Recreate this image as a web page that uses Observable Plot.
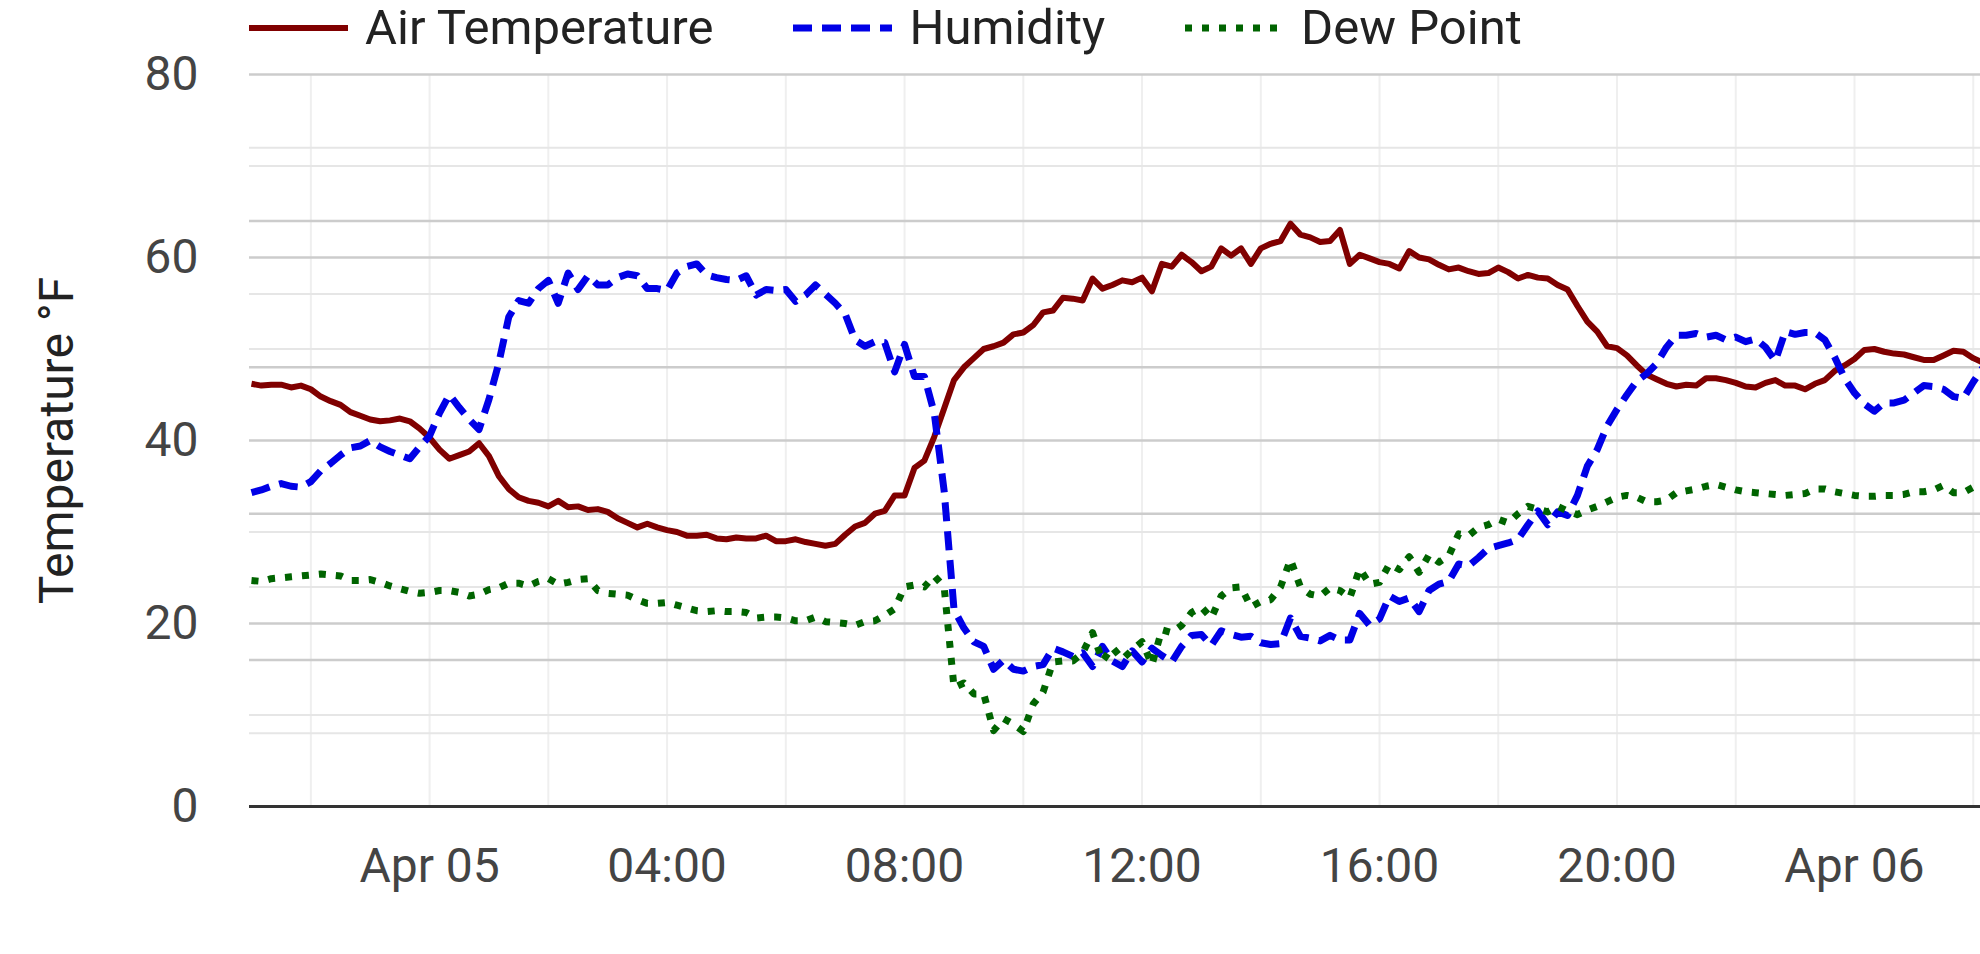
<!DOCTYPE html>
<html>
<head>
<meta charset="utf-8">
<script src="https://cdn.jsdelivr.net/npm/d3@7"></script>
<script src="https://cdn.jsdelivr.net/npm/@observablehq/plot@0.6"></script>
<style>
  html, body { margin: 0; padding: 0; background: #fff; }
  body { width: 1980px; height: 954px; overflow: hidden; font-family: Roboto, sans-serif; }
  #legend { position: relative; z-index: 2; height: 50px; width: 1980px; box-sizing: border-box; padding-left: 249px; display: flex; align-items: center; }
  #legend .item { display: flex; align-items: center; margin-right: 80px; height: 56px; margin-top: 6px; }
  #legend svg { display: block; margin-right: 17px; }
  #legend span { font-size: 49px; color: #222; line-height: 56px; white-space: nowrap; }
  #chart svg { display: block; }
</style>
</head>
<body>
<div id="legend"></div>
<div id="chart"></div>
<script>
// ---- data (10-minute readings, starting Apr 04 21:00) ----
const startTime = "2023-04-04T21:00:00Z";
const stepMinutes = 10;

const seriesNames = ["Air Temperature", "Humidity", "Dew Point"];
const seriesColors = ["#800000", "#0000e6", "#006400"];

// Air temperature (°F)
const airTemperature = [
  46.2, 46.0, 46.1, 46.1, 45.8, 46.0,
  45.6, 44.8, 44.3, 43.9, 43.1, 42.7,
  42.3, 42.1, 42.2, 42.4, 42.1, 41.3,
  40.3, 39.0, 38.0, 38.4, 38.8, 39.7,
  38.3, 36.1, 34.7, 33.8, 33.4, 33.2,
  32.8, 33.4, 32.7, 32.8, 32.4, 32.5,
  32.2, 31.5, 31.0, 30.5, 30.9, 30.5,
  30.2, 30.0, 29.6, 29.6, 29.7, 29.3,
  29.2, 29.4, 29.3, 29.3, 29.6, 29.0,
  29.0, 29.2, 28.9, 28.7, 28.5, 28.7,
  29.7, 30.6, 31.0, 32.0, 32.3, 34.0,
  34.0, 37.0, 37.8, 40.4, 43.5, 46.6,
  48.0, 49.0, 50.0, 50.3, 50.7, 51.6,
  51.8, 52.6, 54.0, 54.2, 55.6, 55.5,
  55.3, 57.7, 56.6, 57.0, 57.5, 57.3,
  57.8, 56.3, 59.3, 59.0, 60.3, 59.5,
  58.5, 59.0, 61.0, 60.2, 61.0, 59.3,
  61.0, 61.5, 61.8, 63.7, 62.5, 62.2,
  61.7, 61.8, 63.0, 59.3, 60.3, 59.9,
  59.5, 59.3, 58.8, 60.7, 60.0, 59.8,
  59.2, 58.7, 58.9, 58.5, 58.2, 58.3,
  58.9, 58.4, 57.7, 58.1, 57.8, 57.7,
  57.0, 56.5, 54.7, 53.0, 51.9, 50.3,
  50.1, 49.3, 48.2, 47.2, 46.7, 46.2,
  45.9, 46.1, 46.0, 46.8, 46.8, 46.6,
  46.3, 45.9, 45.8, 46.3, 46.6, 46.0,
  46.0, 45.6, 46.2, 46.6, 47.6, 48.2,
  48.9, 49.9, 50.0, 49.7, 49.5, 49.4,
  49.1, 48.8, 48.8, 49.3, 49.8, 49.7,
  49.0, 48.5
];

// Humidity, as drawn on the shared 0–80 scale (0–100 % maps to 0–80)
const humidity = [
  34.3, 34.6, 35.0, 35.3, 35.0, 34.9,
  35.5, 36.7, 37.5, 38.4, 39.2, 39.4,
  40.0, 39.3, 38.8, 38.4, 38.0, 39.3,
  40.5, 43.0, 45.0, 43.6, 42.3, 41.2,
  44.5, 48.5, 53.5, 55.3, 55.0, 56.6,
  57.5, 55.0, 58.3, 56.5, 58.0, 57.0,
  57.0, 57.8, 58.2, 58.0, 56.6, 56.6,
  56.4, 58.3, 59.0, 59.3, 58.1, 57.8,
  57.6, 57.5, 58.0, 55.9, 56.5, 56.4,
  56.5, 55.2, 55.9, 57.0, 56.0, 55.0,
  53.8, 51.0, 50.3, 50.8, 50.7, 47.5,
  50.5, 47.0, 47.0, 43.0, 34.5, 21.5,
  19.5, 18.0, 17.5, 15.0, 16.0, 15.0,
  14.8, 15.3, 15.5, 17.3, 16.9, 16.4,
  16.8, 15.3, 17.5, 15.9, 15.3, 17.0,
  15.8, 17.3, 16.5, 15.8, 17.5, 18.7,
  18.8, 17.6, 19.2, 18.8, 18.5, 18.6,
  17.9, 17.7, 17.8, 20.6, 18.6, 18.4,
  18.1, 18.7, 18.2, 18.2, 21.1, 19.8,
  20.5, 23.0, 22.4, 22.8, 21.3, 23.6,
  24.3, 24.6, 26.5, 26.3, 27.2, 28.2,
  28.5, 28.8, 29.2, 30.8, 32.3, 30.8,
  32.2, 31.8, 34.0, 37.2, 39.0, 41.6,
  43.4, 45.0, 46.5, 47.3, 48.4, 50.2,
  51.5, 51.5, 51.7, 51.3, 51.5, 51.0,
  51.3, 50.8, 51.1, 50.2, 48.7, 51.9,
  51.6, 51.8, 51.8, 51.0, 49.1, 46.8,
  45.2, 44.0, 43.2, 44.1, 44.1, 44.4,
  45.2, 46.0, 45.9, 45.6, 44.8, 44.6,
  46.4, 48.0
];

// Dew point (°F)
const dewPoint = [
  24.7, 24.6, 24.9, 25.0, 25.1, 25.2,
  25.3, 25.4, 25.3, 25.2, 24.7, 24.7,
  24.8, 24.5, 24.1, 23.8, 23.5, 23.3,
  23.4, 23.6, 23.6, 23.4, 23.0, 23.2,
  23.7, 23.9, 24.4, 24.4, 24.1, 24.6,
  24.9, 24.3, 24.5, 24.8, 24.9, 23.6,
  23.3, 23.2, 23.1, 22.6, 22.2, 22.2,
  22.3, 22.0, 21.7, 21.4, 21.3, 21.4,
  21.3, 21.3, 21.2, 20.6, 20.7, 20.7,
  20.6, 20.3, 20.3, 20.7, 20.2, 20.1,
  20.0, 19.8, 20.2, 20.3, 20.9, 21.6,
  24.0, 24.2, 24.0, 25.2, 24.0, 13.0,
  13.5, 12.3, 12.3, 8.3, 9.6, 9.0,
  8.2, 11.2, 12.5, 15.8, 15.9, 15.9,
  16.8, 19.0, 15.9, 17.4, 16.1, 17.1,
  18.0, 15.5, 19.3, 19.0, 19.8, 21.2,
  21.8, 20.6, 23.0, 23.9, 24.0, 21.8,
  22.4, 22.6, 24.0, 27.0, 24.0, 23.2,
  23.0, 23.9, 23.6, 22.8, 26.0, 24.3,
  24.5, 26.5, 25.9, 27.3, 25.6, 27.5,
  26.7, 27.4, 29.8, 29.6, 30.5, 30.8,
  31.4, 31.0, 32.0, 32.8, 32.5, 32.2,
  32.8, 32.3, 31.9, 32.4, 32.8, 33.3,
  33.8, 34.0, 33.8, 33.3, 33.3, 33.5,
  34.3, 34.5, 34.7, 35.0, 35.2, 34.9,
  34.6, 34.4, 34.3, 34.2, 34.1, 34.0,
  34.1, 34.2, 34.7, 34.7, 34.4, 34.2,
  34.0, 33.9, 33.9, 34.0, 34.0, 34.1,
  34.4, 34.4, 34.6, 35.1, 34.3, 34.3,
  34.9, 35.2
];

const xDomain = ["2023-04-04T20:58:00Z", "2023-04-06T02:07:20Z"];
const yTicks = [0, 20, 40, 60, 80];
const yMinorTicks = [10, 30, 50, 70];
const humidityPctMajor = [20, 40, 60, 80, 100];
const humidityPctMinor = [10, 30, 50, 70, 90];
const yLabel = "Temperature °F";

// ---- build ----
const t0 = new Date(startTime).getTime();
const rows = airTemperature.map((v, i) => ({
  time: new Date(t0 + i * stepMinutes * 60000),
  air: v,
  hum: humidity[i],
  dew: dewPoint[i]
}));

const dom = xDomain.map(d => new Date(d));
const vGrid = d3.utcHour.every(2).range(dom[0], dom[1]);
const xTicks = d3.utcHour.every(4).range(dom[0], dom[1]);
const fmtDay = d3.utcFormat("%b %d"), fmtHour = d3.utcFormat("%H:%M");
const tickFormat = d => d.getUTCHours() === 0 ? fmtDay(d) : fmtHour(d);

const pctToScale = p => p * 0.8;
const majorLines = Array.from(new Set([...yTicks.filter(v => v > 0), ...humidityPctMajor.map(pctToScale)]));
const minorLines = [...yMinorTicks, ...humidityPctMinor.map(pctToScale)].filter(v => !majorLines.includes(v));

const styles = [
  {strokeWidth: 6, dash: null},
  {strokeWidth: 7, dash: "19,10"},
  {strokeWidth: 7, dash: "7,10"}
];
const keys = ["air", "hum", "dew"];

const chart = Plot.plot({
  width: 1980,
  height: 904,
  marginLeft: 249,
  marginRight: 0,
  marginTop: 24,
  marginBottom: 148,
  style: {fontFamily: "Roboto, sans-serif", color: "#444", background: "none", overflow: "visible"},
  x: {type: "utc", domain: dom},
  y: {domain: [0, 80]},
  marks: [
    Plot.ruleX(vGrid, {stroke: "#efefef", strokeWidth: 2}),
    Plot.ruleY(minorLines, {stroke: "#e6e6e6", strokeWidth: 2}),
    Plot.ruleY(majorLines, {stroke: "#cccccc", strokeWidth: 2.5}),
    Plot.ruleY([0], {stroke: "#333333", strokeWidth: 3}),
    ...keys.map((k, i) => Plot.line(rows, {
      x: "time", y: k,
      stroke: seriesColors[i],
      strokeWidth: styles[i].strokeWidth,
      strokeDasharray: styles[i].dash,
      strokeLinecap: "butt",
      strokeLinejoin: "round",
      clip: true
    })),
    Plot.axisY({ticks: yTicks, tickSize: 0, tickPadding: 51, fontSize: 48, fill: "#444", label: null}),
    Plot.axisX({ticks: xTicks, tickFormat, tickSize: 0, tickPadding: 41, fontSize: 48, fill: "#444", label: null}),
    Plot.text([yLabel], {text: d => d, frameAnchor: "left", textAnchor: "middle", lineAnchor: "middle", dx: -192, rotate: -90, fontSize: 48, fill: "#222"})
  ]
});
document.getElementById("chart").appendChild(chart);

// ---- legend ----
const legend = document.getElementById("legend");
seriesNames.forEach((name, i) => {
  const item = document.createElement("div");
  item.className = "item";
  const ns = "http://www.w3.org/2000/svg";
  const sw = document.createElementNS(ns, "svg");
  sw.setAttribute("width", 99);
  sw.setAttribute("height", 20);
  const ln = document.createElementNS(ns, "line");
  ln.setAttribute("x1", 0); ln.setAttribute("x2", 99);
  ln.setAttribute("y1", 10); ln.setAttribute("y2", 10);
  ln.setAttribute("stroke", seriesColors[i]);
  ln.setAttribute("stroke-width", styles[i].strokeWidth);
  if (styles[i].dash) ln.setAttribute("stroke-dasharray", styles[i].dash);
  sw.appendChild(ln);
  const label = document.createElement("span");
  label.textContent = name;
  item.appendChild(sw);
  item.appendChild(label);
  legend.appendChild(item);
});
</script>
</body>
</html>
